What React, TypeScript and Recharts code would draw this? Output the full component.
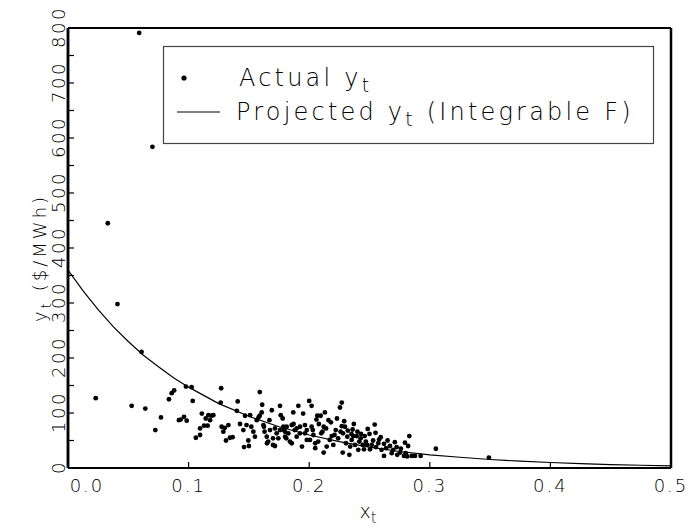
import React from "react";
import { ReferenceLine, Scatter, ScatterChart, XAxis, YAxis } from "recharts";

const actualX = [
  0.059, 0.07, 0.033, 0.041, 0.061, 0.023,
  0.0528, 0.0641, 0.0724, 0.0771, 0.0837, 0.086, 0.088, 0.092, 0.0934, 0.0962, 0.0984, 0.0978, 0.1025, 0.1034,
  0.106, 0.1095, 0.1095, 0.111, 0.1128, 0.1142, 0.1158, 0.1164, 0.1178, 0.119, 0.1205, 0.127, 0.1266, 0.1274,
  0.1288, 0.13, 0.131, 0.133, 0.1343, 0.1365, 0.14, 0.1407, 0.1426, 0.1454, 0.146, 0.1468, 0.148, 0.1495, 0.15,
  0.151, 0.152, 0.1537, 0.155, 0.1565, 0.158, 0.159, 0.1606, 0.161, 0.1625, 0.163, 0.1648, 0.166, 0.167, 0.169,
  0.17, 0.1716, 0.173, 0.1744, 0.1758, 0.1764, 0.178, 0.179, 0.18, 0.1813, 0.1827, 0.184, 0.1855, 0.1868, 0.188,
  0.1896, 0.191, 0.1924, 0.194, 0.195, 0.1965, 0.198, 0.2, 0.202, 0.203, 0.205, 0.2067,
  0.159, 0.162, 0.165, 0.1675, 0.17, 0.1716, 0.1758, 0.1786, 0.18, 0.181, 0.1855, 0.187, 0.1896, 0.1924, 0.1965,
  0.198, 0.2007, 0.202, 0.2035, 0.205, 0.206,
  0.213, 0.2095, 0.216, 0.212, 0.21, 0.2075, 0.212, 0.2145, 0.217, 0.2187, 0.22, 0.222, 0.224, 0.2255, 0.227,
  0.227, 0.228, 0.2278, 0.2297, 0.2305, 0.2316, 0.2333, 0.234, 0.2352, 0.236, 0.2366, 0.238, 0.2394, 0.2407,
  0.2415, 0.2427, 0.2444, 0.2454, 0.247, 0.248, 0.2485, 0.2504, 0.2518, 0.2543, 0.253, 0.2554, 0.2573, 0.2593,
  0.26, 0.262, 0.2637, 0.265, 0.2684, 0.2697, 0.2725, 0.273, 0.2753, 0.2786, 0.2794, 0.28, 0.282, 0.283, 0.2813,
  0.285, 0.2877, 0.2924, 0.305, 0.349,
  0.208, 0.211, 0.214, 0.218, 0.221, 0.223, 0.226, 0.229, 0.232, 0.235, 0.237, 0.24, 0.243, 0.246, 0.25, 0.255,
  0.258, 0.262, 0.267, 0.271, 0.276,
];
const actualY = [
  791, 584, 445, 298, 211, 127,
  113, 108, 69, 92, 125, 136, 141, 87, 88, 93, 86, 148, 147, 122,
  55, 60, 72, 99, 77, 90, 77, 96, 87, 95, 96, 145, 119, 75,
  66, 73, 50, 78, 55, 56, 104, 121, 80, 69, 38, 95, 78, 50, 40,
  96, 75, 66, 57, 87, 92, 138, 101, 115, 75, 66, 57, 48, 87, 105,
  42, 72, 63, 54, 113, 96, 90, 69, 57, 75, 63, 48, 78, 101, 69,
  57, 113, 75, 39, 99, 63, 51, 122, 113, 69, 36, 95,
  95, 78, 45, 69, 54, 40, 69, 75, 66, 54, 45, 80, 72, 63, 78,
  69, 51, 75, 60, 45, 88,
  101, 95, 87, 75, 63, 48, 28, 39, 51, 58, 42, 69, 54, 110, 119,
  76, 63, 28, 75, 45, 57, 24, 39, 51, 70, 58, 42, 58, 33,
  48, 54, 42, 34, 48, 42, 71, 34, 42, 79, 50, 38, 45, 56,
  33, 22, 36, 50, 27, 33, 38, 24, 28, 22, 46, 27, 40, 58, 21,
  22, 22, 22, 35, 19,
  80, 66, 72, 83, 60, 90, 66, 85, 68, 62, 80, 66, 62, 58, 62, 64,
  52, 44, 40, 47, 35,
];

// projected curve (Integrable F)
const projectedX = [0, 0.0125, 0.025, 0.0375, 0.05, 0.0625, 0.075, 0.0875, 0.1, 0.125, 0.15, 0.175, 0.2, 0.225, 0.25, 0.275, 0.3, 0.325, 0.35, 0.375, 0.4, 0.425, 0.45, 0.475, 0.5];
const projectedY = [360, 322, 288, 257, 230, 205, 184, 164, 147, 117, 94, 75, 60, 48, 38, 30, 24, 19.5, 15.5, 12.4, 10, 8, 6.3, 5, 4];

const xTicks = [0, 0.1, 0.2, 0.3, 0.4, 0.5];
const yTicks = [0, 50, 100, 150, 200, 250, 300, 350, 400, 450, 500, 550, 600, 650, 700, 750, 800];

const actual = actualX.map((x, i) => ({ x, y: actualY[i] }));
const projected = projectedX.map((x, i) => ({ x, y: projectedY[i] }));

const FONT = "'DejaVu Sans', sans-serif";
const WEIGHT = 200;
const W = 688;
const H = 532;
const TICK = 6;

const Dot = (props: any) => <circle cx={props.cx} cy={props.cy} r={2.4} fill="#000" />;
const NoDot = () => <g />;

// ticks point inward, labels sit outside
function bottomTick(props: any) {
  const { x, y, payload } = props;
  const v = payload.value as number;
  const lx = v === 0 ? x + 19 : x;
  return (
    <g key={`b-${v}`}>
      <line x1={x} y1={y} x2={x} y2={y - TICK} stroke="#000" strokeWidth={1.2} />
      <text x={lx} y={y + 24} textAnchor="middle" fontFamily={FONT} fontWeight={WEIGHT} fontSize={18} letterSpacing={2} fill="#000">
        {v.toFixed(1)}
      </text>
    </g>
  );
}

function topTick(props: any) {
  return <line key={`t-${props.payload.value}`} x1={props.x} y1={props.y} x2={props.x} y2={props.y + TICK} stroke="#000" strokeWidth={1.2} />;
}

function leftTick(props: any) {
  const { x, y, payload } = props;
  const v = payload.value as number;
  const lx = x - 9;
  return (
    <g key={`l-${v}`}>
      <line x1={x} y1={y} x2={x + TICK} y2={y} stroke="#000" strokeWidth={1.2} />
      {v % 100 === 0 ? (
        <g transform={`translate(${lx},${y}) rotate(-90)`}>
          <text x={1} y={6} textAnchor="middle" fontFamily={FONT} fontWeight={WEIGHT} fontSize={18} letterSpacing={2.5} fill="#000">
            {v}
          </text>
        </g>
      ) : null}
    </g>
  );
}

function rightTick(props: any) {
  return <line key={`r-${props.payload.value}`} x1={props.x} y1={props.y} x2={props.x - TICK} y2={props.y} stroke="#000" strokeWidth={1.2} />;
}

export default function App() {
  return (
    <div style={{ position: "relative", width: W, height: H, background: "#fff" }}>
      <style>{"body{margin:0}"}</style>
      <ScatterChart width={W} height={H} margin={{ top: 28, right: 17, bottom: 34, left: 38 }}>
        <XAxis
          xAxisId="b"
          type="number"
          dataKey="x"
          domain={[0, 0.5]}
          ticks={xTicks}
          interval={0}
          allowDataOverflow
          height={30}
          tickSize={0}
          tickMargin={0}
          tickLine={false}
          stroke="#000"
          axisLine={{ stroke: "#000", strokeWidth: 2 }}
          tick={bottomTick}
        />
        <XAxis
          xAxisId="t"
          orientation="top"
          type="number"
          dataKey="x"
          domain={[0, 0.5]}
          ticks={xTicks}
          interval={0}
          height={0}
          tickSize={0}
          tickMargin={0}
          tickLine={false}
          stroke="#000"
          axisLine={{ stroke: "#000", strokeWidth: 2 }}
          tick={topTick}
        />
        <YAxis
          yAxisId="l"
          type="number"
          dataKey="y"
          domain={[0, 800]}
          ticks={yTicks}
          interval={0}
          allowDataOverflow
          width={30}
          tickSize={0}
          tickMargin={0}
          tickLine={false}
          stroke="#000"
          axisLine={{ stroke: "#000", strokeWidth: 2.5 }}
          tick={leftTick}
        />
        <YAxis
          yAxisId="r"
          orientation="right"
          type="number"
          dataKey="y"
          domain={[0, 800]}
          ticks={yTicks}
          interval={0}
          width={0}
          tickSize={0}
          tickMargin={0}
          tickLine={false}
          stroke="#000"
          axisLine={{ stroke: "#000", strokeWidth: 2.5 }}
          tick={rightTick}
        />
        <ReferenceLine xAxisId="b" yAxisId="l" x={0} stroke="#000" strokeWidth={2.5} />
        <ReferenceLine xAxisId="b" yAxisId="l" x={0.5} stroke="#000" strokeWidth={2.5} />
        <ReferenceLine xAxisId="b" yAxisId="l" y={0} stroke="#000" strokeWidth={2} />
        <ReferenceLine xAxisId="b" yAxisId="l" y={800} stroke="#000" strokeWidth={2} />
        <Scatter
          xAxisId="b"
          yAxisId="l"
          data={projected}
          line={{ stroke: "#000", strokeWidth: 1.2 }}
          lineType="joint"
          shape={NoDot}
          isAnimationActive={false}
        />
        <Scatter xAxisId="b" yAxisId="l" data={actual} shape={Dot} isAnimationActive={false} />
      </ScatterChart>

      <svg width={W} height={H} style={{ position: "absolute", left: 0, top: 0, pointerEvents: "none" }}>
        <rect x={163.5} y={46.5} width={490} height={97} fill="#fff" stroke="#444" strokeWidth={1.2} />
        <circle cx={184} cy={78} r={2.6} fill="#000" />
        <text x={239} y={86} fontFamily={FONT} fontWeight={WEIGHT} fontSize={24} letterSpacing={3.2} fill="#000">
          Actual y<tspan dy={6} fontSize={19}>t</tspan>
        </text>
        <line x1={177} y1={112} x2={220} y2={112} stroke="#000" strokeWidth={1.2} />
        <text x={236} y={120} fontFamily={FONT} fontWeight={WEIGHT} fontSize={24} letterSpacing={3.2} fill="#000">
          Projected y<tspan dy={6} fontSize={19}>t</tspan>
          <tspan dy={-6}> (Integrable F)</tspan>
        </text>
        <g transform="translate(46,258) rotate(-90)">
          <text x={0} y={0} textAnchor="middle" fontFamily={FONT} fontWeight={WEIGHT} fontSize={18} letterSpacing={3} fill="#000">
            y<tspan dy={5} fontSize={14}>t</tspan>
            <tspan dy={-5}> ($/MWh)</tspan>
          </text>
        </g>
        <text x={368} y={518} textAnchor="middle" fontFamily={FONT} fontWeight={WEIGHT} fontSize={19} fill="#000">
          x<tspan dy={5} fontSize={15}>t</tspan>
        </text>
      </svg>
    </div>
  );
}
